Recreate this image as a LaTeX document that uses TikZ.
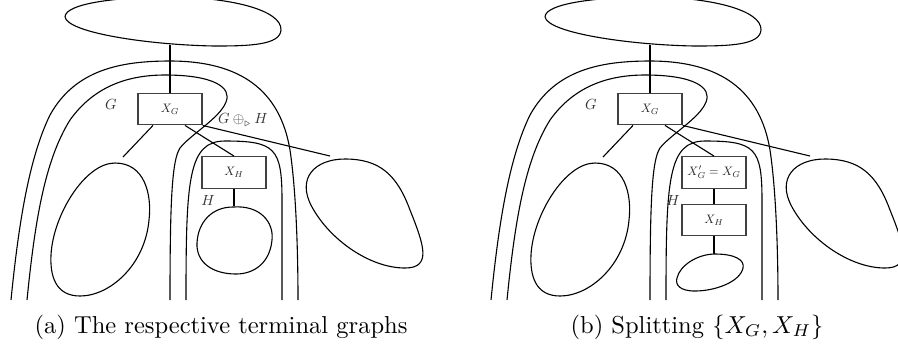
\documentclass[tikz,border=0pt]{standalone}
\usepackage{amssymb}
\usepackage{graphicx}
\usetikzlibrary{calc}
\newcommand{\boxtxt}[1]{\scalebox{0.5}{$#1$}}
\newcommand{\lbltxt}[1]{\scalebox{0.6}{$#1$}}
\begin{document}
\begin{tikzpicture}[x=0.408pt,y=-0.408pt,
  curve/.style={draw=black,line width=0.45pt},
  tbox/.style={draw=black!75,line width=0.5pt,rectangle,minimum width=26.1pt,minimum height=12.9pt,inner sep=0pt,text=black!85},
  lbl/.style={inner sep=0pt,text=black!80},
  captext/.style={inner sep=0pt,anchor=base,font=\normalsize}]
\useasboundingbox (0,0) rectangle (898,345);
\clip (0,0) rectangle (898,345);
\foreach \off/\s in {0/a,480/b}{
\begin{scope}[shift={(\off,0)}]
  % top blob
  \draw[curve] (65,17) .. controls (65,3) and (120,-3) .. (168,-3) .. controls (230,-3) and (282,10) .. (281,30) .. controls (280,45) and (250,46) .. (215,46) .. controls (150,45) and (68,33) .. (65,17);
  \coordinate (top\s) at (170,45);
  % outer region G (+) H
  \draw[curve] (11,300) .. controls (18,230) and (28,160) .. (50,115) .. controls (75,70) and (120,61) .. (170,61) .. controls (240,61) and (280,90) .. (290,150) .. controls (296,190) and (298,250) .. (298,300);
  % region G
  \draw[curve] (27,300) .. controls (35,220) and (45,160) .. (70,120) .. controls (95,85) and (130,75) .. (165,75) .. controls (215,75) and (232,88) .. (226,102) .. controls (220,118) and (190,135) .. (180,148) .. controls (172,160) and (170,200) .. (170,300);
  % region H
  \draw[curve] (186,300) .. controls (186,180) and (188,141) .. (225,141) .. controls (275,141) and (282,148) .. (282,200) -- (282,300);
  % left blob
  \draw[curve] (115,163) .. controls (145,163) and (152,195) .. (149,220) .. controls (145,265) and (110,296) .. (80,296) .. controls (55,296) and (50,275) .. (51,255) .. controls (53,215) and (85,163) .. (115,163);
  \coordinate (lend\s) at (123,157);
  % right blob
  \draw[curve] (345,159) .. controls (380,159) and (397,175) .. (410,210) .. controls (424,245) and (432,268) .. (405,268) .. controls (370,268) and (330,240) .. (312,207) .. controls (296,178) and (315,159) .. (345,159);
  \coordinate (rend\s) at (330,156);
  % X_G box
  \node[tbox] (xg\s) at (170,109) {\boxtxt{X_G}};
  \draw[curve] (top\s) -- (xg\s.north);
  \draw[curve] ($(xg\s.south)+(-17,0)$) -- (lend\s);
  \draw[curve] (xg\s.south east) -- (rend\s);
  \node[lbl] (g\s) at (111,104) {\lbltxt{G}};
\end{scope}
}
% panel (a)
\node[tbox] (xha) at (234,172.5) {\boxtxt{X_H}};
\draw[curve] ($(xga.south)+(15,0)$) -- (xha.north);
\draw[curve] (233,207) .. controls (260,205) and (274,222) .. (272,240) .. controls (270,262) and (255,274) .. (236,274) .. controls (212,274) and (196,262) .. (197,243) .. controls (198,222) and (212,207) .. (233,207);
\coordinate (sba) at (234,206);
\draw[curve] (xha.south) -- (sba);
\node[lbl] (ha) at (208,200) {\lbltxt{H}};
\node[lbl] (gh) at (243,120) {\lbltxt{G \oplus_{\triangleright} H}};
\node[captext] (capa) at (221,333) {(a) The respective terminal graphs};
% panel (b)
\node[tbox] (xgp) at (714,172.5) {\boxtxt{X'_G = X_G}};
\node[tbox] (xhb) at (714,220) {\boxtxt{X_H}};
\draw[curve] ($(xgb.south)+(15,0)$) -- (xgp.north);
\draw[curve] (xgp.south) -- (xhb.north);
\draw[curve] (715,254) .. controls (735,254) and (745,260) .. (743,268) .. controls (740,282) and (715,291) .. (695,291) .. controls (680,291) and (675,285) .. (677,278) .. controls (680,265) and (698,254) .. (715,254);
\coordinate (sbb) at (714,254);
\draw[curve] (xhb.south) -- (sbb);
\node[lbl] (hb) at (673,200) {\lbltxt{H}};
\node[captext] (capb) at (697,333) {(b) Splitting $\{X_G, X_H\}$};
\end{tikzpicture}
\end{document}
